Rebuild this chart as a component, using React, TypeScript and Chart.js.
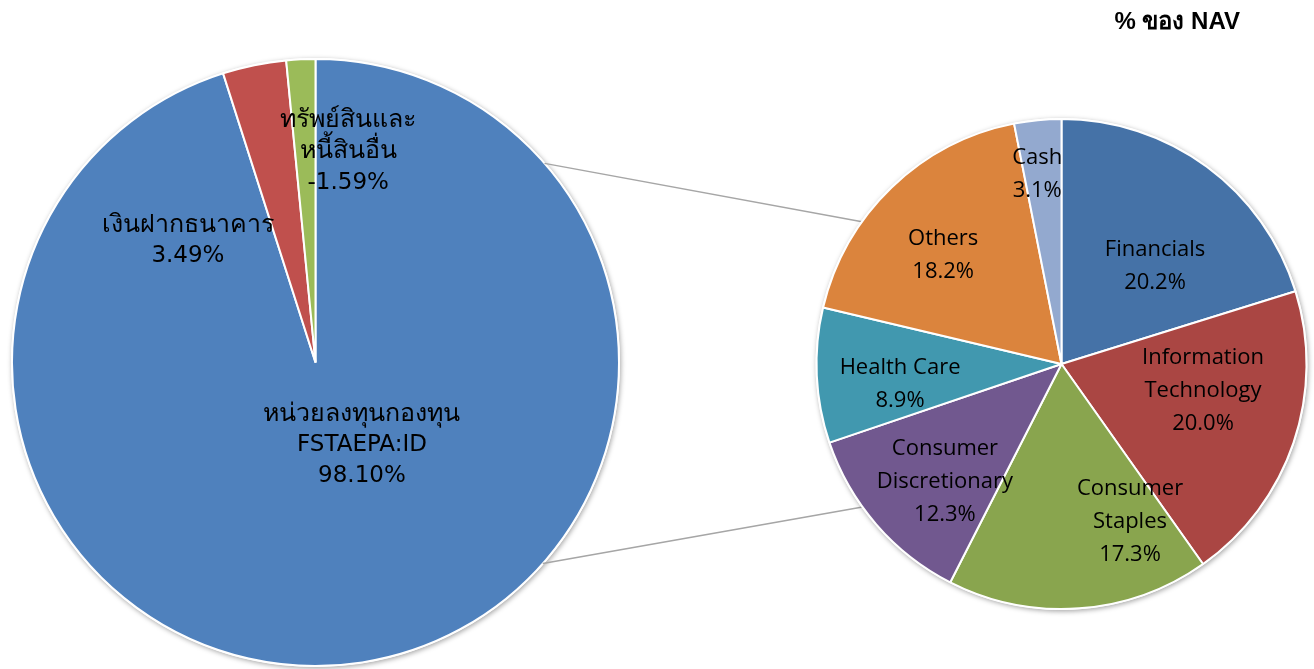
import React, { useEffect, useRef } from "react";
import { Chart, registerables } from "chart.js";

Chart.register(...registerables);

// ---- Data ----
const leftLabels = ["หน่วยลงทุนกองทุน\nFSTAEPA:ID", "เงินฝากธนาคาร", "ทรัพย์สินและ\nหนี้สินอื่น"];
const leftValues = [98.1, 3.49, -1.59];
const leftColors = ["#4F81BD", "#C0504D", "#9BBB59"];

const rightLabels = [
  "Financials",
  "Information\nTechnology",
  "Consumer\nStaples",
  "Consumer\nDiscretionary",
  "Health Care",
  "Others",
  "Cash",
];
const rightValues = [20.2, 20.0, 17.3, 12.3, 8.9, 18.2, 3.1];
const rightColors = ["#4572A7", "#AA4643", "#89A54E", "#71588F", "#4198AF", "#DB843D", "#93A9CF"];

const titleText = "% ของ NAV";

// ---- Label placement (offset from slice mid-angle in degrees, radius fraction) ----
const leftPlacement = [
  { dAngle: -20.5, r: 0.312 },
  { dAngle: -34.7, r: 0.581 },
  { dAngle: 11.6, r: 0.702 },
];
const rightPlacement = [
  { dAngle: 7.3, r: 0.553 },
  { dAngle: -7.9, r: 0.588 },
  { dAngle: -19.3, r: 0.703 },
  { dAngle: -4.5, r: 0.677 },
  { dAngle: -4.4, r: 0.664 },
  { dAngle: -3.4, r: 0.657 },
  { dAngle: -1.7, r: 0.782 },
];

const W = 1314;
const H = 669;
const THAI = /[\u0E00-\u0E7F]/;

function makeLabelPlugin(cfg: {
  id: string;
  labels: string[];
  values: number[];
  decimals: number;
  placement: { dAngle: number; r: number }[];
  font: string;
  thaiFont: string;
  lineHeight: number;
}) {
  return {
    id: cfg.id,
    afterDatasetsDraw(chart: any) {
      const ctx = chart.ctx;
      const meta = chart.getDatasetMeta(0);
      meta.data.forEach((arc: any, i: number) => {
        const p = arc.getProps(["x", "y", "startAngle", "endAngle", "outerRadius"], true);
        const pl = cfg.placement[i];
        const a = (p.startAngle + p.endAngle) / 2 + (pl.dAngle * Math.PI) / 180;
        const cx = p.x + Math.cos(a) * pl.r * p.outerRadius;
        const cy = p.y + Math.sin(a) * pl.r * p.outerRadius;
        const lines = [...cfg.labels[i].split("\n"), cfg.values[i].toFixed(cfg.decimals) + "%"];
        ctx.save();
        ctx.fillStyle = "#000000";
        ctx.textAlign = "center";
        ctx.textBaseline = "middle";
        const top = cy - ((lines.length - 1) * cfg.lineHeight) / 2;
        lines.forEach((l, j) => {
          ctx.font = THAI.test(l) ? cfg.thaiFont : cfg.font;
          ctx.fillText(l, cx, top + j * cfg.lineHeight);
        });
        ctx.restore();
      });
    },
  };
}

const shadowPlugin = {
  id: "pieShadow",
  beforeDatasetsDraw(chart: any) {
    const meta = chart.getDatasetMeta(0);
    const arc = meta.data[0];
    if (!arc) return;
    const p = arc.getProps(["x", "y", "outerRadius"], true);
    const ctx = chart.ctx;
    ctx.save();
    ctx.shadowColor = "rgba(0,0,0,0.35)";
    ctx.shadowBlur = 5;
    ctx.shadowOffsetX = 1;
    ctx.shadowOffsetY = 1.5;
    ctx.beginPath();
    ctx.arc(p.x, p.y, p.outerRadius + 1, 0, Math.PI * 2);
    ctx.fillStyle = "#ffffff";
    ctx.fill();
    ctx.restore();
  },
};

export default function App() {
  const leftRef = useRef<HTMLCanvasElement | null>(null);
  const rightRef = useRef<HTMLCanvasElement | null>(null);

  useEffect(() => {
    if (!leftRef.current || !rightRef.current) return;

    const left = new Chart(leftRef.current, {
      type: "pie",
      data: {
        labels: leftLabels,
        datasets: [
          {
            data: leftValues.map((v) => Math.abs(v)),
            backgroundColor: leftColors,
            borderColor: "#ffffff",
            borderWidth: 2,
          },
        ],
      },
      options: {
        responsive: false,
        animation: false,
        radius: 303.5,
        layout: { padding: { left: 0, right: 683, top: 56, bottom: 0 } },
        plugins: { legend: { display: false }, tooltip: { enabled: false } },
      } as any,
      plugins: [
        shadowPlugin,
        makeLabelPlugin({
          id: "leftLabels",
          labels: leftLabels,
          values: leftValues,
          decimals: 2,
          placement: leftPlacement,
          font: "23px 'DejaVu Sans', Tahoma, sans-serif",
          thaiFont: "25px 'DejaVu Sans', Tahoma, sans-serif",
          lineHeight: 31,
        }),
      ],
    });

    const connectorPlugin = {
      id: "connectors",
      beforeDatasetsDraw(chart: any) {
        const la = left.getDatasetMeta(0).data[0] as any;
        const ra = chart.getDatasetMeta(0).data[0] as any;
        if (!la || !ra) return;
        const lp = la.getProps(["x", "y", "outerRadius"], true);
        const rp = ra.getProps(["x", "y", "outerRadius"], true);
        const pt = (p: any, deg: number) => {
          const a = ((deg - 90) * Math.PI) / 180;
          return [p.x + Math.cos(a) * p.outerRadius, p.y + Math.sin(a) * p.outerRadius];
        };
        const pairs = [
          [pt(lp, 49), pt(rp, 305.5)],
          [pt(lp, 131.5), pt(rp, 234.3)],
        ];
        const ctx = chart.ctx;
        ctx.save();
        ctx.strokeStyle = "#A6A6A6";
        ctx.lineWidth = 1.5;
        pairs.forEach(([a, b]) => {
          ctx.beginPath();
          ctx.moveTo(a[0], a[1]);
          ctx.lineTo(b[0], b[1]);
          ctx.stroke();
        });
        ctx.restore();
      },
    };

    const titlePlugin = {
      id: "navTitle",
      afterDraw(chart: any) {
        const ctx = chart.ctx;
        ctx.save();
        ctx.font = "bold 24px 'Liberation Sans', Arial, sans-serif";
        ctx.fillStyle = "#000000";
        ctx.textAlign = "right";
        ctx.textBaseline = "alphabetic";
        ctx.fillText(titleText, 1240, 29);
        ctx.restore();
      },
    };

    const right = new Chart(rightRef.current, {
      type: "pie",
      data: {
        labels: rightLabels,
        datasets: [
          {
            data: rightValues,
            backgroundColor: rightColors,
            borderColor: "#ffffff",
            borderWidth: 2,
          },
        ],
      },
      options: {
        responsive: false,
        animation: false,
        radius: 245,
        layout: { padding: { left: 809, right: 0, top: 59, bottom: 0 } },
        plugins: { legend: { display: false }, tooltip: { enabled: false } },
      } as any,
      plugins: [
        connectorPlugin,
        shadowPlugin,
        makeLabelPlugin({
          id: "rightLabels",
          labels: rightLabels,
          values: rightValues,
          decimals: 1,
          placement: rightPlacement,
          font: "22px 'Open Sans', 'Noto Sans', sans-serif",
          thaiFont: "22px 'Open Sans', 'Noto Sans', sans-serif",
          lineHeight: 33,
        }),
        titlePlugin,
      ],
    });

    return () => {
      right.destroy();
      left.destroy();
    };
  }, []);

  const canvasStyle: React.CSSProperties = {
    position: "absolute",
    left: 0,
    top: 0,
    width: W,
    height: H,
  };

  return (
    <div
      style={{
        position: "fixed",
        left: 0,
        top: 0,
        width: W,
        height: H,
        background: "#ffffff",
        overflow: "hidden",
      }}
    >
      <canvas ref={leftRef} width={W} height={H} style={canvasStyle} />
      <canvas ref={rightRef} width={W} height={H} style={canvasStyle} />
    </div>
  );
}
